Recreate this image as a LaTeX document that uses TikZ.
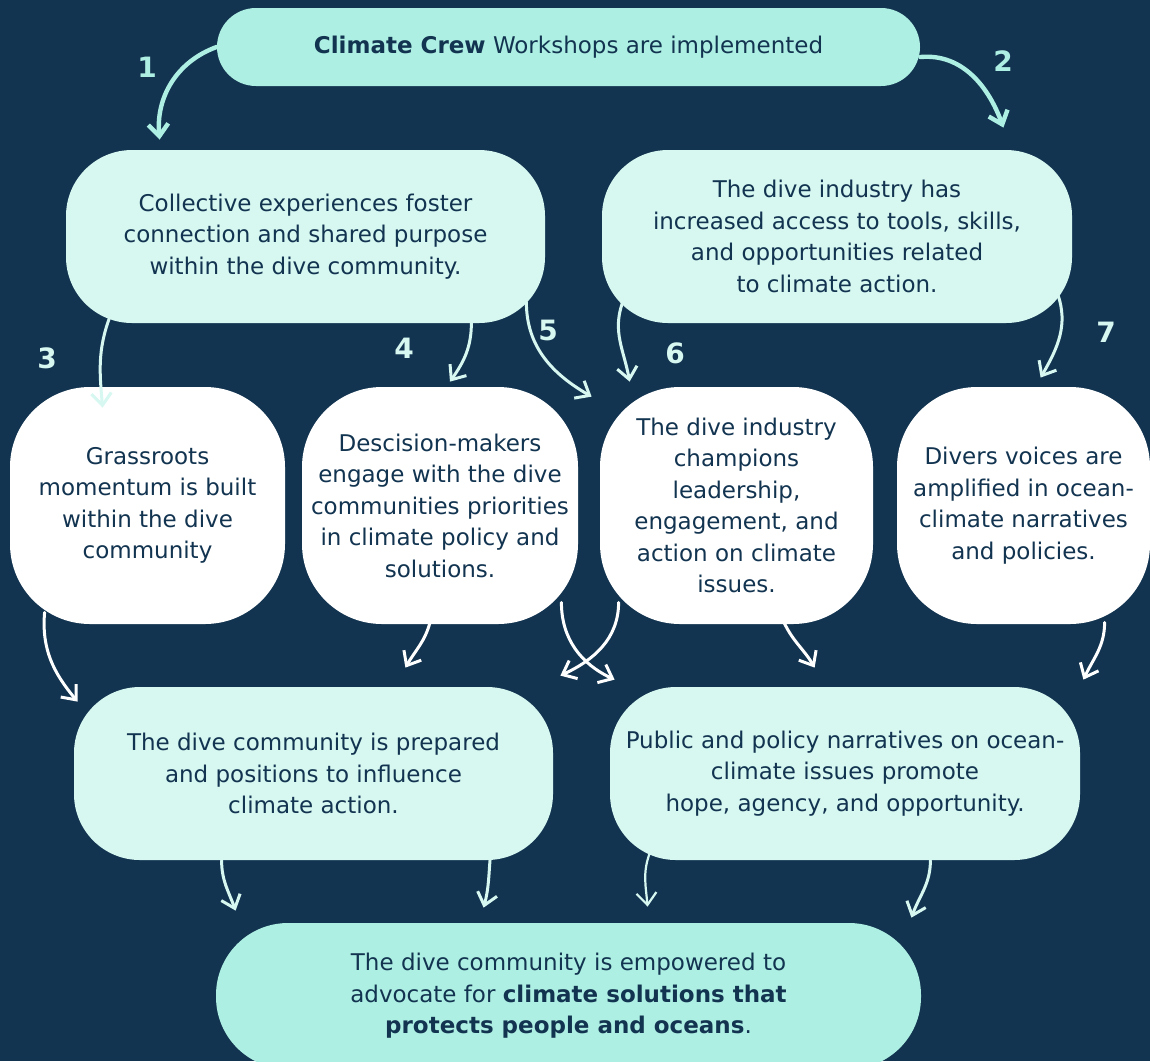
\documentclass[tikz,border=0pt]{standalone}
\usepackage{fontspec}
\setmainfont{DejaVu Sans}
\usepackage{xcolor}
\definecolor{navy}{RGB}{18,52,80}
\definecolor{mint}{RGB}{174,239,227}
\definecolor{palemint}{RGB}{215,247,241}
\usepackage{tikz}
\usetikzlibrary{arrows.meta}
\newcommand{\boxfont}{\fontsize{11.5}{15.75}\selectfont}
\newcommand{\numfont}{\fontsize{14}{14}\selectfont\bfseries}
\tikzset{
    common/.style={rectangle, align=center, text=navy, font=\boxfont, inner sep=0pt},
    headline/.style={common, fill=mint, rounded corners=19.5pt, minimum width=351.5pt, minimum height=39pt},
    outcome/.style={common, fill=palemint, rounded corners=33pt, minimum height=86.5pt},
    result/.style={common, fill=white, rounded corners=40pt, minimum height=118.5pt},
    goal/.style={common, fill=mint, rounded corners=36pt, minimum width=352.5pt, minimum height=73pt},
    steplabel/.style={font=\numfont, inner sep=0pt},
    flow/.style={-{Straight Barb[length=6pt, width=10pt]}, line width=1.5pt, line cap=round},
    bigflow/.style={flow, line width=2.2pt}
}

\begin{document}
\begin{tikzpicture}[x=0.5pt, y=0.5pt]

      \useasboundingbox (0,0) rectangle (1150,-1061);
      \fill[navy] (0,0) rectangle (1150,-1061);

      % boxes
      \node[headline] (crew) at (568.5,-47) {\textbf{Climate Crew} Workshops are implemented};

      \node[outcome, minimum width=239.5pt] (collective) at (305.5,-236.5)
        {Collective experiences foster\\connection and shared purpose\\within the dive community.};
      \node[outcome, minimum width=235pt] (access) at (837,-236.5)
        {The dive industry has\\increased access to tools, skills,\\and opportunities related\\to climate action.};

      \node[result, minimum width=137.5pt] (grass) at (147.5,-505.5)
        {Grassroots\\momentum is built\\within the dive\\community};
      \node[result, minimum width=138pt] (policy) at (440,-505.5)
        {Descision-makers\\engage with the dive\\communities priorities\\in climate policy and\\solutions.};
      \node[result, minimum width=136.5pt] (champion) at (736.5,-505.5)
        {The dive industry\\champions\\leadership,\\engagement, and\\action on climate\\issues.};
      \node[result, minimum width=126.5pt] (voices) at (1023.5,-505.5)
        {Divers voices are\\amplified in ocean-\\climate narratives\\and policies.};

      \node[outcome, minimum width=239.5pt] (prepared) at (313.5,-773.5)
        {The dive community is prepared\\and positions to influence\\climate action.};
      \node[outcome, minimum width=235pt] (narratives) at (845,-773.5)
        {Public and policy narratives on ocean-\\climate issues promote\\hope, agency, and opportunity.};

      \node[goal] (empowered) at (568.5,-996)
        {The dive community is empowered to\\advocate for \textbf{climate solutions that}\\\textbf{protects people and oceans}.};

      % step numbers
      \path
          (147,-67) node[steplabel, text=mint] (n1) {1}
          (1003,-61) node[steplabel, text=mint] (n2) {2}
          (47,-358) node[steplabel, text=palemint] (n3) {3}
          (404,-348) node[steplabel, text=palemint] (n4) {4}
          (548,-330) node[steplabel, text=palemint] (n5) {5}
          (675,-353) node[steplabel, text=palemint] (n6) {6}
          (1106,-332) node[steplabel, text=palemint] (n7) {7};

      % workshops to first outcomes
      \draw[bigflow, mint] (crew.west) to[out=200, in=95] ([shift={(94,10)}]collective.north west);
      \draw[bigflow, mint] ([shift={(0,-10)}]crew.east) to[out=5, in=110] ([shift={(-69,22)}]access.north east);

      % first outcomes to results
      \draw[flow, palemint] ([shift={(44,6)}]collective.south west) to[out=250, in=95] ([shift={(93,-21)}]grass.north west);
      \draw[flow, palemint] ([shift={(-74,1)}]collective.south east) to[out=270, in=55] ([shift={(10,5)}]policy.north);
      \draw[flow, palemint] ([shift={(-19,21)}]collective.south east) to[out=270, in=150] ([shift={(-8,-10)}]champion.north west);
      \draw[flow, palemint] ([shift={(21,21)}]access.south west) to[out=250, in=100] ([shift={(30,5)}]champion.north west);
      \draw[flow, palemint] ([shift={(-15,30)}]access.south east) to[out=290, in=60] ([shift={(144,9)}]voices.north west);

      % results to narratives
      \draw[flow, white] ([shift={(35,12)}]grass.south west) to[out=265, in=130] ([shift={(4,-15)}]prepared.north west);
      \draw[flow, white] ([shift={(-10,2)}]policy.south) to[out=255, in=60] ([shift={(-148,19)}]prepared.north east);
      \draw[flow, white] ([shift={(-17,22)}]policy.south east) to[out=270, in=155] ([shift={(5,7)}]narratives.north west);
      \draw[flow, white] ([shift={(19,22)}]champion.south west) to[out=270, in=25] ([shift={(7,11)}]prepared.north east);
      \draw[flow, white] ([shift={(47.5,2)}]champion.south) to[out=295, in=120] ([shift={(205,19)}]narratives.north west);
      \draw[flow, white] ([shift={(208,2)}]voices.south west) to[out=270, in=65] ([shift={(3,7)}]narratives.north east);

      % narratives to goal
      \draw[flow, palemint] ([shift={(148,0)}]prepared.south west) to[out=270, in=110] ([shift={(20,12)}]empowered.north west);
      \draw[flow, palemint] ([shift={(-63,5)}]prepared.south east) to[out=265, in=75] ([shift={(268,15)}]empowered.north west);
      \draw[flow, palemint, line width=1.1pt] ([shift={(40,7)}]narratives.south west) to[out=250, in=95] ([shift={(432,16)}]empowered.north west);
      \draw[flow, palemint] ([shift={(-150,0)}]narratives.south east) to[out=270, in=70] ([shift={(-10,5)}]empowered.north east);
    \end{tikzpicture}
\end{document}
